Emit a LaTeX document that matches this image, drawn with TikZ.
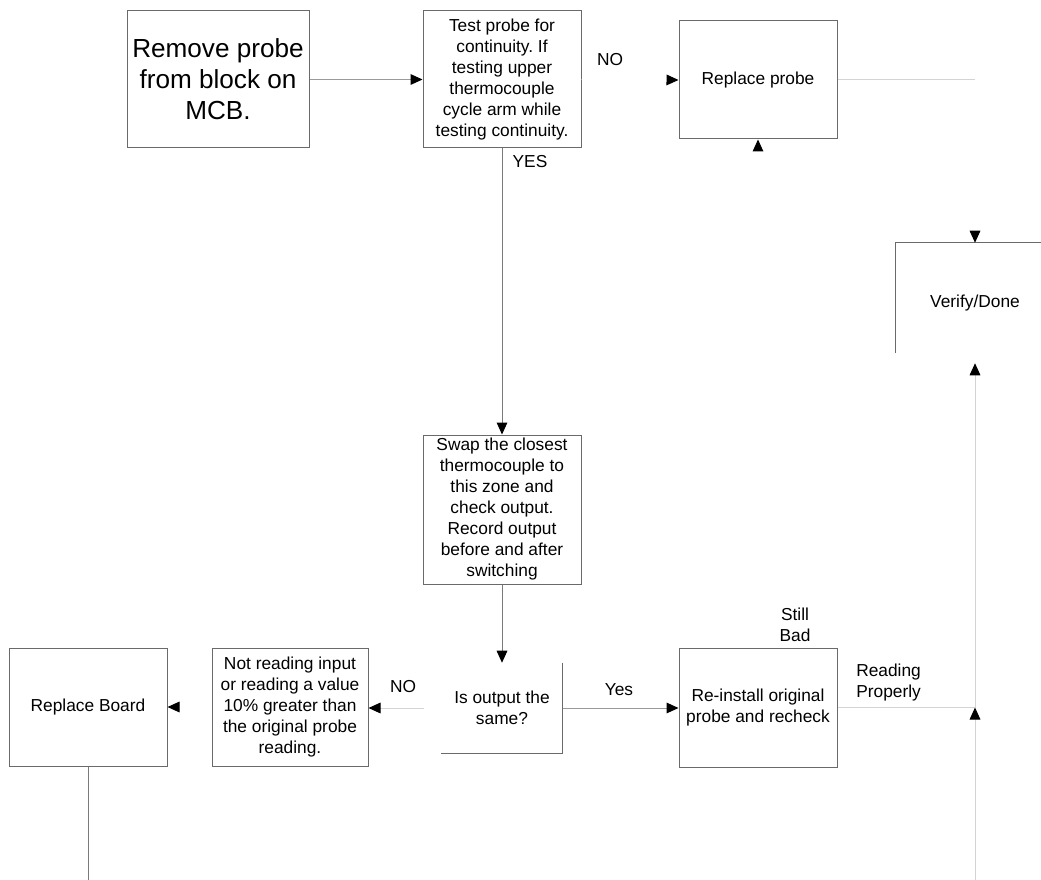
\documentclass[tikz,border=0pt]{standalone}
\usepackage{fontspec}
\setmainfont{Liberation Sans}
\usetikzlibrary{arrows.meta,calc}
\definecolor{boxgray}{HTML}{6A6A6A}
\definecolor{midline}{HTML}{9A9A9A}
\definecolor{darkline}{HTML}{7A7A7A}
\definecolor{lightline}{HTML}{D4D4D4}
\frenchspacing
\begin{document}
\begin{tikzpicture}[x=0.75pt,y=-0.75pt,
  txt/.style={font=\fontsize{13pt}{15.75pt}\selectfont},
  box/.style={txt, draw=boxgray, line width=0.75pt, align=center, inner sep=0pt},
  ghost/.style={txt, draw=none, align=center, inner sep=0pt},
  lbl/.style={txt, inner sep=0pt, align=center},
  tip/.style={-{Triangle[length=9pt,width=8pt,color=black]}},
  conn/.style={line width=0.75pt},
  hidden/.style={conn, draw=white, tip}
]
\clip (0,0) rectangle (1041,880);
\fill[white] (0,0) rectangle (1041,880);

% nodes
\node[box, minimum width=136.5pt, minimum height=102.75pt,
      font=\fontsize{19.6pt}{23.3pt}\selectfont] (rm) at (218,79.5)
      {Remove probe\\from block on\\MCB.};
\node[box, minimum width=118.5pt, minimum height=102.75pt] (tp) at (502,79.5)
      {Test probe for\\continuity. If\\testing upper\\thermocouple\\cycle arm while\\testing continuity.};
\node[box, minimum width=118.5pt, minimum height=88.5pt] (rp) at (758,80) {Replace probe};
\node[ghost, minimum width=118.5pt, minimum height=90pt] (vd) at (975,303) {Verify/Done};
\node[box, minimum width=118.5pt, minimum height=111.75pt] (sw) at (502,509.5)
      {Swap the closest\\thermocouple to\\this zone and\\check output.\\Record output\\before and after\\switching};
\node[ghost, minimum width=90.75pt, minimum height=67.5pt] (io) at (502,708)
      {Is output the\\same?};
\node[box, minimum width=118.5pt, minimum height=89.25pt] (ri) at (758,707.5)
      {Re-install original\\probe and recheck};
\node[box, minimum width=117pt, minimum height=88.5pt] (nr) at (290,707)
      {Not reading input\\or reading a value\\10\% greater than\\the original probe\\reading.};
\node[box, minimum width=118.5pt, minimum height=88.5pt] (rb) at (88,707) {Replace Board};

% partial outlines
\draw[draw=boxgray, line width=0.75pt] (vd.north east) -- (vd.north west) -- ($(vd.south west)+(0,-10)$);
\draw[draw=boxgray, line width=0.75pt] (io.north east) -- (io.south east) -- (io.south west);

% coordinates
\coordinate (rpend) at (975,80);
\coordinate (join) at (975,707.5);
\coordinate (bot) at (975,880);
\coordinate (rbend) at (88,880);

% labels
\node[lbl] (lyes) at (530,162) {YES};
\node[lbl] (lno1) at (610,60) {NO};
\node[lbl] (lno2) at (403,687) {NO};
\node[lbl] (lyes2) at (619,690) {Yes};
\node[lbl] (lstill) at (795,625) {Still\\Bad};
\node[lbl, anchor=west, align=left] (lread) at (856,683) {Reading\\Properly};

% connectors
\draw[conn, midline, tip] (rm.east) -- (tp.west);
\draw[conn, darkline, tip] (tp.south) -- (sw.north);
\draw[hidden] (tp.east) -- (rp.west);
\draw[conn, lightline] (rp.east) -- (rpend);
\draw[hidden] (rpend) -- (vd.north);
\draw[hidden] (ri.north) -- (rp.south);
\draw[conn, darkline, tip] (sw.south) -- (io.north);
\draw[conn, lightline, tip, shorten <=12.75pt] (io.west) -- (io.west -| nr.east);
\draw[hidden] (nr.west) -- (rb.east);
\draw[conn, midline, tip] (io.east) -- (io.east -| ri.west);
\draw[conn, lightline] (ri.east) -- (join);
\draw[conn, lightline, tip] (bot) -- (join);
\draw[conn, lightline, tip] (join) -- (vd.south);
\draw[conn, darkline] (rb.south) -- (rbend);
\end{tikzpicture}
\end{document}
